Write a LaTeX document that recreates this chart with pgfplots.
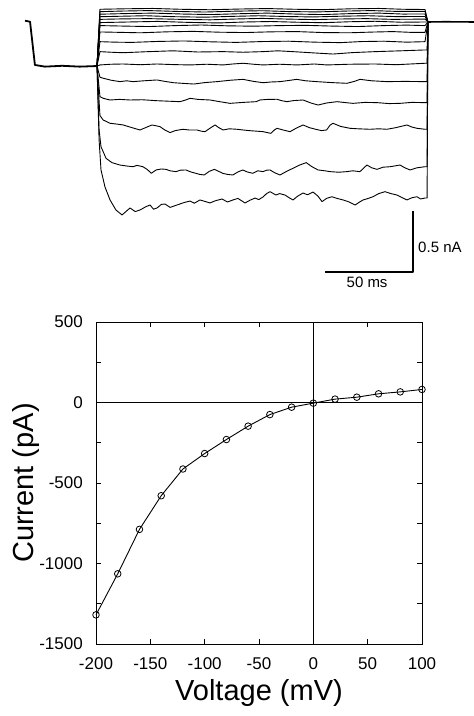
\documentclass[border=0pt]{standalone}
\usepackage{fontspec}
\setmainfont{Liberation Sans}
\usepackage{pgfplots}
\pgfplotsset{compat=1.18}

\begin{document}
\begin{tikzpicture}
\path[use as bounding box] (0pt,0pt) rectangle (474pt,716pt);

% current traces, time in ms, current in pA
\begin{axis}[
    at={(0pt,416pt)}, anchor=south west,
    width=474pt, height=300pt, scale only axis,
    xmin=-55.775, xmax=216.775,
    ymin=-2316.7, ymax=183.3,
    hide axis, clip=false,
    cycle list={{black, no markers}},
    every axis plot/.append style={black, no markers, line width=0.9pt, line join=round},
  ]
  % prepulse and holding
  \addplot[line width=1.8pt] coordinates {(-41.4,11) (-38.5,2) (-35.7,-358) (-30,-372) (-20,-365) (-10,-372) (0,-367)};
  % after the pulse
  \addplot[line width=1.6pt] coordinates {(190.3,0) (200,2) (216.8,0)};
  % -200 mV
  \addplot coordinates {(0,-367) (1.2,-983) (2.3,-1233) (4.6,-1375) (7.5,-1483) (10.9,-1567) (14.4,-1608)
    (17,-1575) (19,-1550) (22,-1580) (24.7,-1567) (28,-1540) (30.5,-1525) (32.5,-1560) (34.5,-1550)
    (37,-1520) (39.1,-1517) (42,-1545) (46,-1525) (50,-1505) (53.5,-1492) (56,-1510) (59.2,-1483)
    (62,-1495) (65,-1508) (68,-1490) (71.9,-1475) (75,-1500) (78.2,-1483) (81,-1470) (85.1,-1508)
    (88,-1485) (90.9,-1467) (93,-1480) (95.5,-1458) (97.5,-1430) (99.5,-1414) (102.9,-1442) (105,-1430)
    (108.1,-1442) (110.5,-1465) (112.7,-1483) (115.5,-1450) (118.5,-1425) (121,-1440) (124.2,-1417)
    (127,-1450) (129.4,-1497) (132,-1470) (135.1,-1456) (138,-1470) (141.5,-1483) (145,-1500) (148.4,-1525)
    (151,-1500) (153,-1483) (156,-1470) (158.7,-1456) (162,-1430) (165.6,-1414) (169,-1430) (172.5,-1442)
    (175,-1460) (178.2,-1483) (181,-1465) (184,-1456) (186,-1475) (188.6,-1467) (189.8,-1467) (190.3,0)};
  % -180 mV
  \addplot coordinates {(0,-367) (1.2,-900) (2.3,-1039) (5.2,-1136) (8.6,-1172) (13.2,-1192) (17,-1200)
    (20.7,-1206) (23,-1195) (26.4,-1206) (29,-1230) (31.2,-1261) (34,-1233) (37,-1225) (39.7,-1228)
    (42,-1240) (45.4,-1247) (48,-1235) (51.1,-1233) (54,-1250) (56.9,-1261) (59,-1270) (61.7,-1275)
    (64.5,-1245) (67.5,-1228) (70,-1245) (72.3,-1261) (75,-1270) (78.1,-1275) (81,-1250) (83.8,-1233)
    (86.5,-1250) (89.6,-1261) (92.5,-1240) (95.5,-1247) (97.5,-1235) (99.5,-1233) (102,-1255)
    (105.2,-1275) (109,-1245) (112.7,-1219) (116,-1195) (120.3,-1172) (123.5,-1205) (127.1,-1233)
    (131,-1240) (134,-1247) (139,-1252) (143.7,-1247) (147,-1240) (151.2,-1247) (153.5,-1215) (155.2,-1192)
    (158,-1215) (161,-1228) (164.5,-1210) (168.5,-1206) (171,-1200) (174.2,-1192) (177,-1215) (180,-1233)
    (184,-1215) (188.6,-1206) (189.8,-1206) (190.3,0)};
  % -160 mV
  \addplot coordinates {(0,-367) (1.7,-780) (3.6,-817) (7.5,-844) (11,-850) (15,-858) (20,-880) (24.7,-900)
    (28,-880) (31.6,-858) (34,-865) (36.2,-872) (39,-900) (42,-922) (45,-905) (49.4,-894) (53,-900)
    (57.5,-900) (60,-910) (62.1,-914) (65,-885) (67.9,-858) (70,-880) (72.5,-900) (76,-890) (80.5,-894)
    (84,-900) (88.2,-906) (92,-910) (95.5,-914) (98,-922) (100,-928) (102,-900) (103.5,-886) (107,-900)
    (111,-914) (114.5,-885) (118.5,-858) (122,-880) (126,-895) (129,-905) (132,-900) (134,-860) (135.7,-844)
    (140,-870) (145.5,-886) (150,-890) (157,-894) (162,-890) (166.7,-894) (172,-880) (178.2,-858)
    (181,-875) (184,-886) (188.6,-894) (189.8,-894) (190.3,0)};
  % -140 mV
  \addplot coordinates {(0,-367) (1.7,-622) (3.6,-636) (7.5,-650) (13,-645) (19,-650) (26,-648)
    (34.5,-656) (41,-660) (47.7,-664) (51,-650) (53.5,-636) (58,-645) (65,-650) (71,-665) (76.5,-678)
    (84,-670) (91.5,-664) (93.7,-650) (98,-645) (103.5,-644) (106,-655) (109.2,-664) (113,-655)
    (118.5,-650) (123,-675) (127.1,-692) (132,-675) (138,-664) (143,-672) (147.2,-678) (154,-670) (161,-672)
    (168,-680) (174.2,-678) (181,-670) (188.6,-672) (189.8,-672) (190.3,0)};
  % -120 mV
  \addplot coordinates {(0,-367) (1.7,-460) (3.6,-469) (8,-485) (13.2,-497) (17,-490) (20.7,-497)
    (27,-490) (34.5,-483) (39,-495) (44,-506) (50,-512) (55.7,-517) (62,-505) (69,-497) (77,-485)
    (84,-478) (90,-495) (95.5,-506) (100,-500) (105.2,-497) (110,-488) (114.8,-478) (120,-490) (126.3,-497)
    (135,-505) (143.7,-511) (148,-495) (151.2,-478) (158,-490) (166.7,-497) (177,-495) (188.6,-497)
    (189.8,-497) (190.3,0)};
  % -100 mV
  \addplot coordinates {(0,-367) (1.7,-358) (8,-352) (15,-350) (25,-356) (34.5,-350) (44,-355) (53.5,-358)
    (63,-352) (72.5,-358) (78,-350) (84,-344) (90,-352) (95.5,-358) (105,-352) (115,-358) (125,-350)
    (132.2,-358) (145,-352) (160,-350) (172,-356) (188.6,-344) (189.8,-344) (190.3,0)};
  % -80 mV
  \addplot coordinates {(0,-367) (1.7,-247) (8,-252) (15,-256) (28,-248) (43.7,-240) (58,-250) (72.5,-247)
    (84,-252) (95.5,-247) (104,-240) (112.7,-247) (125,-258) (135.7,-267) (147,-255) (160,-247) (175,-240)
    (188.6,-233) (189.8,-233) (190.3,0)};
  % -60 mV
  \addplot coordinates {(0,-367) (1.7,-164) (10,-168) (20,-170) (35,-162) (50,-158) (65,-165) (80,-170)
    (95,-163) (110,-160) (125,-168) (140,-172) (152,-163) (165,-160) (178,-168) (188.6,-164) (190.3,0)};
  % -40 mV
  \addplot coordinates {(0,-367) (1.7,-83) (12,-86) (25,-90) (40,-82) (55,-78) (70,-85) (85,-88)
    (100,-82) (115,-80) (130,-88) (145,-90) (158,-84) (170,-80) (180,-86) (188.6,-86) (190.3,0)};
  % -20 mV
  \addplot coordinates {(0,-367) (1.7,-30) (15,-34) (30,-38) (45,-30) (60,-25) (75,-32) (90,-35)
    (105,-30) (120,-28) (135,-34) (150,-38) (165,-30) (178,-26) (188.6,-30) (190.3,0)};
  % 0 mV
  \addplot coordinates {(0,-367) (1.7,-5) (18,0) (35,5) (52,-3) (70,-8) (85,0) (100,4) (115,-2) (130,-6)
    (145,2) (160,6) (175,-2) (188.6,0) (190.3,0)};
  % +20 mV
  \addplot coordinates {(0,-367) (1.7,22) (15,26) (30,28) (48,22) (65,18) (80,25) (95,30) (110,24)
    (125,20) (140,25) (155,28) (170,22) (188.6,24) (190.3,0)};
  % +40 mV
  \addplot coordinates {(0,-367) (1.7,44) (14,48) (28,52) (45,44) (62,40) (78,47) (93,52) (108,46)
    (124,42) (140,48) (156,52) (172,45) (188.6,46) (190.3,0)};
  % +60 mV
  \addplot coordinates {(0,-367) (1.7,65) (16,70) (32,74) (50,66) (66,62) (82,69) (98,74) (114,66)
    (130,62) (146,70) (162,74) (176,66) (188.6,67) (190.3,0)};
  % +80 mV
  \addplot coordinates {(0,-367) (1.7,86) (14,91) (30,95) (46,88) (62,83) (79,90) (95,94) (110,87)
    (127,84) (143,91) (158,95) (173,88) (188.6,88) (190.3,0)};
  % +100 mV
  \addplot coordinates {(0,-367) (1.7,106) (16,110) (32,113) (48,106) (65,102) (82,108) (98,112)
    (114,106) (130,103) (146,110) (162,113) (176,106) (188.6,104) (190.3,0)};
  % scale bars: 50 ms, 0.5 nA
  \addplot[line width=1.6pt, line cap=rect] coordinates {(131.7,-2083) (181.7,-2083) (181.7,-1583)};
  \node[anchor=west, font=\fontsize{15}{18}\selectfont, inner sep=0pt] at (axis cs:184.6,-1875) {0.5 nA};
  \node[anchor=center, font=\fontsize{15}{18}\selectfont, inner sep=0pt] at (axis cs:155.3,-2167) {50 ms};
\end{axis}

% current-voltage relation
\begin{axis}[
    at={(96pt,72pt)}, anchor=south west,
    width=326pt, height=322pt, scale only axis,
    xmin=-200, xmax=100, ymin=-1500, ymax=500,
    xtick={-200,-150,...,100},
    ytick={-1500,-1000,...,500},
    minor y tick num=1,
    tick align=inside,
    major tick length=5pt, minor tick length=5pt,
    every tick/.style={black, line width=0.8pt},
    axis line style={line width=0.8pt},
    /pgf/number format/assume math mode=true,
    /pgf/number format/set thousands separator={},
    tick label style={font=\fontsize{17}{20}\selectfont, inner sep=0pt},
    yticklabel style={xshift=-13pt},
    xticklabel style={yshift=-13pt},
    xlabel={Voltage (mV)},
    ylabel={Current (pA)},
    every axis x label/.style={at={(axis description cs:0.5,-0.177)}, anchor=base,
      font=\fontsize{29}{34}\selectfont},
    every axis y label/.style={at={(axis description cs:-0.193,0.5)}, anchor=base, rotate=90,
      font=\fontsize{29}{34}\selectfont},
    clip=false,
  ]
  \addplot[black, line width=0.8pt] coordinates {(-200,0) (100,0)};
  \addplot[black, line width=0.8pt] coordinates {(0,-1500) (0,500)};
  \addplot[black, line width=0.9pt, mark=o, mark size=3.3pt,
           mark options={fill=white, line width=0.8pt}] coordinates {
    (-200,-1319) (-180,-1064) (-160,-788) (-140,-579) (-120,-413) (-100,-317)
    (-80,-230) (-60,-147) (-40,-75) (-20,-29) (0,-4) (20,21) (40,33) (60,54) (80,66) (100,81)
  };
\end{axis}
\end{tikzpicture}
\end{document}
